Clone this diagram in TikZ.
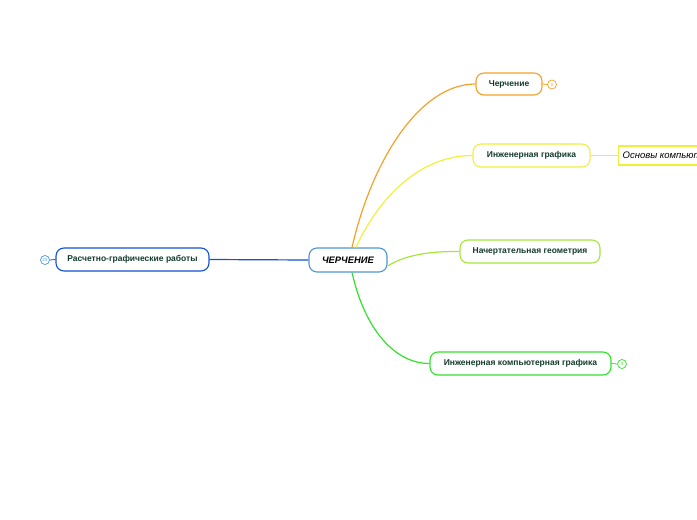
\documentclass[tikz,border=0pt]{standalone}
\usepackage{fontspec}
\setmainfont{Liberation Sans}
\definecolor{cblue}{RGB}{80,150,215}
\definecolor{corange}{RGB}{245,160,40}
\definecolor{cyellow}{RGB}{240,240,60}
\definecolor{clgreen}{RGB}{165,230,60}
\definecolor{cgreen}{RGB}{50,225,45}
\definecolor{cdblue}{RGB}{20,80,210}
\definecolor{ctxt}{RGB}{20,60,45}
\tikzset{
  topic/.style={draw, rounded corners=8pt, line width=1.1pt, fill=white, inner sep=0pt,
    font=\bfseries\fontsize{8.5}{10}\selectfont, text=ctxt},
  conn/.style={line width=1.2pt},
  counter/.style={circle, draw, line width=0.7pt, minimum size=9pt, inner sep=0pt, fill=white,
    font=\fontsize{4.5}{5}\selectfont},
}
\begin{document}
\begin{tikzpicture}[x=1pt,y=-1pt]
\useasboundingbox (0,0) rectangle (697,520);
% nodes
\node[topic, draw=cblue, minimum width=78pt, minimum height=24pt, text=black,
  font=\bfseries\itshape\fontsize{9.4}{11}\selectfont] (c) at (348,260) {ЧЕРЧЕНИЕ};
\node[topic, draw=corange, minimum width=66pt, minimum height=22pt] (o) at (509,84) {Черчение};
\node[topic, draw=cyellow, minimum width=117pt, minimum height=23pt] (y) at (531.5,155.5) {Инженерная графика};
\node[topic, draw=clgreen, minimum width=140pt, minimum height=23pt] (l) at (530,251.5) {Начертательная геометрия};
\node[topic, draw=cgreen, minimum width=181pt, minimum height=23pt] (g) at (520.5,363.5) {Инженерная компьютерная графика};
\node[topic, draw=cdblue, minimum width=153pt, minimum height=23pt] (b) at (132.5,259.5) {Расчетно-графические работы};
\node[draw=cyellow, line width=1.3pt, fill=white, minimum height=19pt, anchor=west, inner xsep=4pt,
  font=\itshape\fontsize{9.5}{11}\selectfont] (sub) at (618,155.5) {Основы компьютерной графики};
\node[counter, draw=corange, text=corange] (oc) at (552,84.5) {0};
\node[counter, draw=cgreen, text=cgreen] (gc) at (622,364) {3};
\node[counter, draw=cblue, text=cblue] (bc) at (45,260) {23};
% connectors
\draw[conn, corange] ([xshift=4pt]c.north) .. controls (372,160) and (420,84) .. (o.west);
\draw[conn, cyellow] ([xshift=8pt]c.north) .. controls (375,205) and (415,155.5) .. (y.west);
\draw[conn, clgreen] ([yshift=-6pt]c.east) .. controls (410,252) and (440,251.5) .. (l.west);
\draw[conn, cgreen] ([xshift=4pt]c.south) .. controls (365,330) and (395,363.5) .. (g.west);
\draw[conn, cdblue] (c.west) -- (b.east);
\draw[line width=0.8pt, corange] (o.east) -- (oc.west);
\draw[line width=0.8pt, cgreen] (g.east) -- (gc.west);
\draw[line width=0.8pt, cdblue] (b.west) -- (bc.east);
\draw[line width=0.8pt, cyellow] (y.east) -- (sub.west);
\end{tikzpicture}
\end{document}
